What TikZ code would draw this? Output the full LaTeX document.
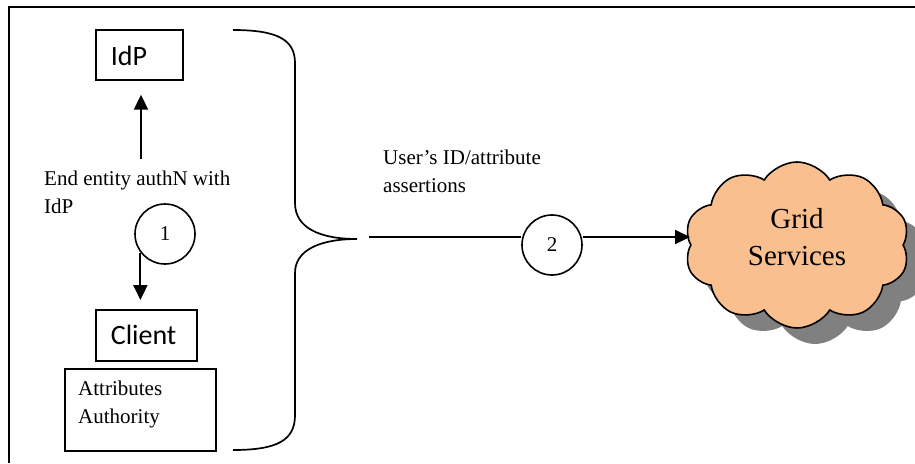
\documentclass[tikz,border=0pt]{standalone}
\usepackage{fontspec}
\setmainfont{Liberation Serif}
\newfontfamily\boxfont{Carlito}
\usetikzlibrary{arrows.meta,shapes.symbols,shadows}

\newlength{\du}
\setlength{\du}{1pt}

\definecolor{cloudfill}{HTML}{FABF8F}
\definecolor{shadowgray}{HTML}{808080}

\tikzset{
  textbox/.style={draw, rectangle, line width=1.7pt, anchor=north west, inner xsep=15pt, inner ysep=0pt, align=left},
  captext/.style={anchor=north west, inner sep=0pt, align=left},
  stepnum/.style={draw, circle, fill=white, line width=1.6pt, minimum size=60pt, inner sep=0pt},
  flow/.style={line width=2.1pt, -{Triangle[length=15pt,width=14pt]}},
}

\begin{document}
\begin{tikzpicture}[font=\fontsize{21}{27.5}\selectfont]
\pgftransformxscale{1.000000}
\pgftransformyscale{-1.000000}
\useasboundingbox (0\du,0\du) rectangle (915\du,463\du);
% frame, top and left only
\draw[line width=2pt] (9\du,463\du)--(9\du,7\du)--(915\du,7\du);
% left column
\node[textbox, font=\boxfont\fontsize{28}{34}\selectfont, text width=57pt, minimum height=50pt, text height=22pt, text depth=0pt] (idp) at (95\du,29\du) {IdP};
\node[textbox, font=\boxfont\fontsize{28}{34}\selectfont, text width=71pt, minimum height=51pt] (client) at (95\du,309\du) {Client};
\node[textbox, text width=151pt, inner xsep=0pt, minimum height=82pt] (aabox) at (64\du,368\du) {};
\node[captext] (aatext) at (78\du,381\du) {Attributes\\Authority};
\node[captext] (authn) at (44\du,171\du) {End entity authN with\\IdP};
\node[stepnum] (num1) at (165\du,234\du) {1};
\coordinate (upfoot) at (141\du,159\du);
\draw[flow, shorten >=14pt] (upfoot) -- (upfoot |- idp.south);
\draw[flow, shorten >=9pt] (num1.217) -- (num1.217 |- client.north);
% brace
\coordinate (bracetip) at (357\du,239\du);
\draw[line width=1.7pt] (233\du,30\du) .. controls (278\du,30\du) and (295\du,40\du) .. (295\du,63\du)
  -- (295\du,203\du) .. controls (295\du,228\du) and (320\du,239\du) .. (bracetip)
  .. controls (320\du,239\du) and (295\du,250\du) .. (295\du,273\du)
  -- (295\du,415\du) .. controls (295\du,440\du) and (278\du,450\du) .. (233\du,450\du);
% right part
\node[captext] (assert) at (383\du,150\du) {User’s ID/attribute\\assertions};
\node[cloud, cloud puffs=10, cloud puff arc=115, aspect=1.6, draw, line width=1.6pt, fill=cloudfill,
  minimum width=225pt, minimum height=166pt, inner sep=0pt, align=center, text depth=16pt,
  font=\fontsize{29}{37}\selectfont,
  drop shadow={shadow xshift=18pt, shadow yshift=-16pt, fill=shadowgray, opacity=1}] (grid) at (797\du,245\du) {Grid\\Services};
\node[stepnum] (num2) at (552\du,245\du) {2};
\coordinate (flowstart) at (369\du,237\du);
\draw[line width=2.1pt] (flowstart) -- (flowstart -| num2.west);
\draw[flow] (flowstart -| num2.east) -- (flowstart -| grid.west);
\end{tikzpicture}
\end{document}
